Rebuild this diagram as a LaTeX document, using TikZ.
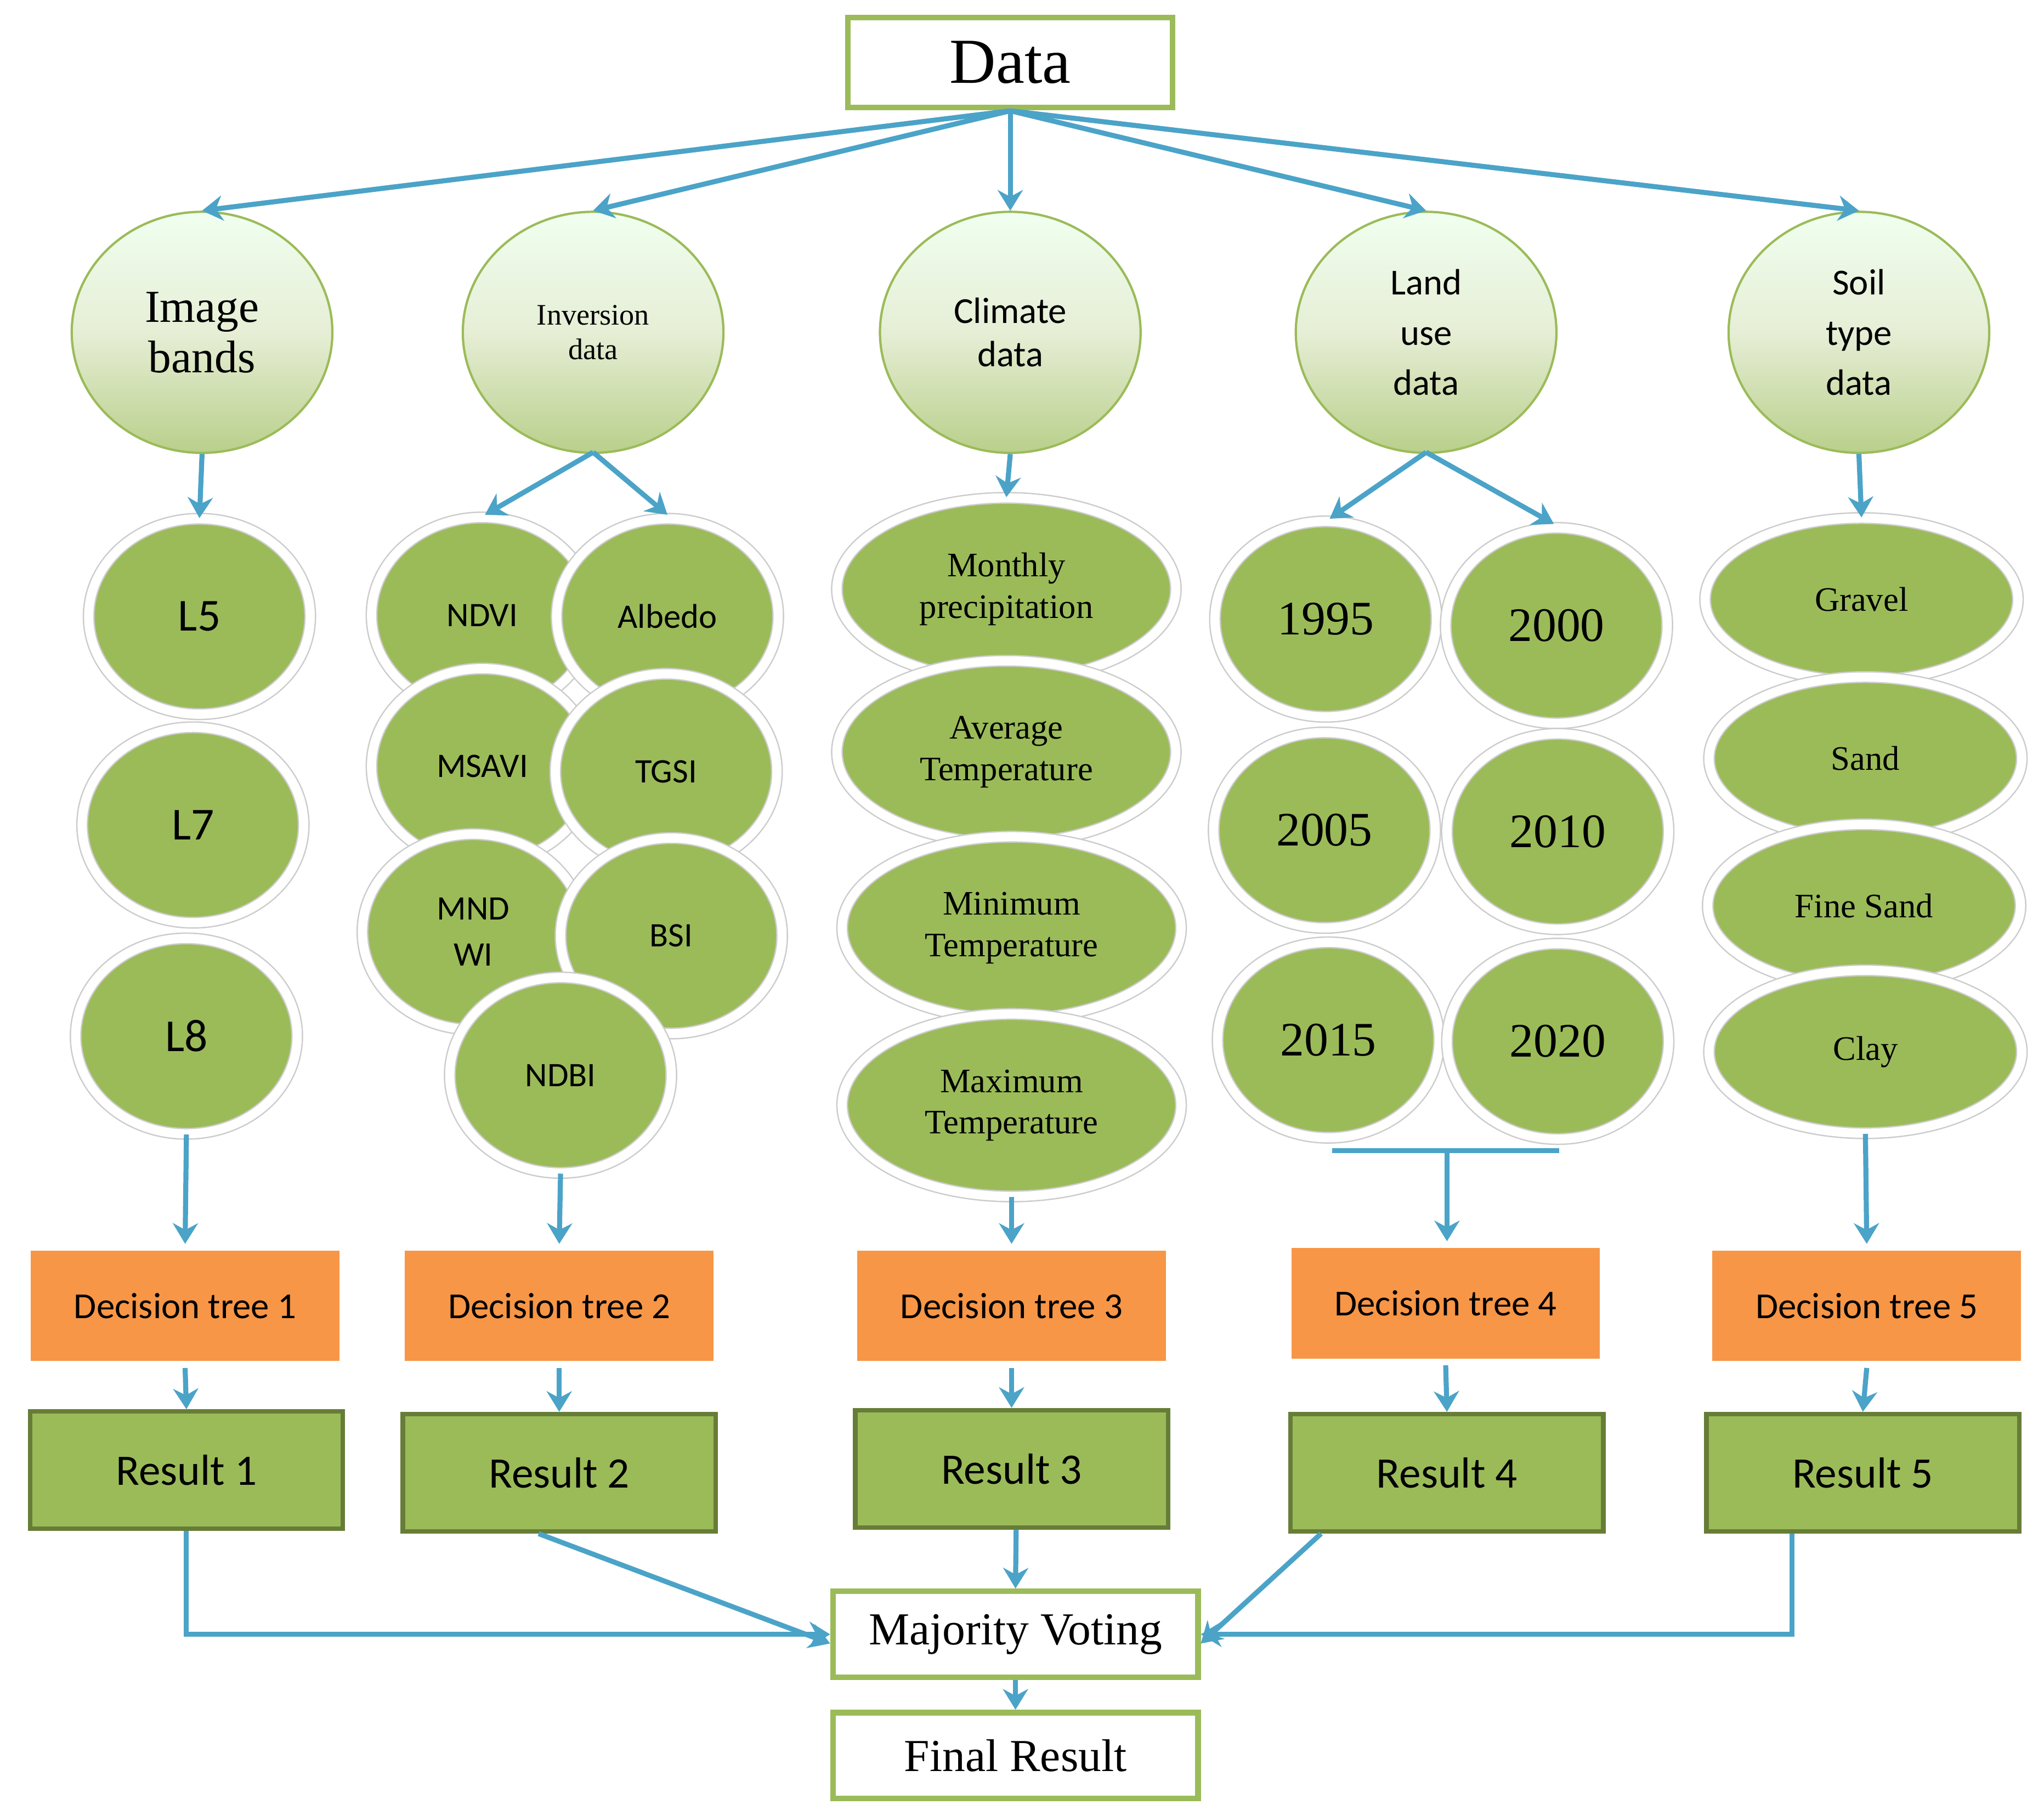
\documentclass[tikz,border=0pt]{standalone}
\usepackage{fontspec}
\setmainfont{Liberation Serif}
\newfontfamily\calf{Carlito}
\usetikzlibrary{shapes.geometric,arrows.meta}
\definecolor{gr}{HTML}{9BBB59}
\definecolor{dgr}{HTML}{4F6228}
\definecolor{org}{HTML}{F79646}
\definecolor{bl}{HTML}{4BA3C8}
\begin{document}
\begin{tikzpicture}[x=0.02cm,y=-0.02cm,
 top/.style={ellipse,minimum width=4cm,minimum height=3.7cm,draw=gr,line width=1pt,top color=white!40!green!10,bottom color=gr!70!white,middle color=gr!25!white,align=center},
 el/.style={ellipse,fill=gr,draw=gray!40,double=white,double distance=4pt,line width=0.6pt,align=center},
 circ/.style={el,minimum width=3.4cm,minimum height=3cm},
 wide/.style={el,minimum width=5.2cm,minimum height=2.8cm},
 soil/.style={el,minimum width=4.8cm,minimum height=2.5cm},
 dt/.style={rectangle,fill=org,draw=white,line width=3pt,minimum width=4.84cm,minimum height=1.8cm,font=\calf\fontsize{16}{18}\selectfont},
 res/.style={rectangle,fill=gr,draw=dgr!70!gr,line width=2pt,minimum width=4.8cm,minimum height=1.8cm,font=\calf\fontsize{19}{21}\selectfont},
 wb/.style={rectangle,fill=white,draw=gr,line width=2.5pt,minimum width=5.6cm,minimum height=1.32cm},
 ar/.style={draw=bl,line width=2.2pt,-{Stealth[length=9pt,width=11pt]}},
 ln/.style={draw=bl,line width=2.2pt}]
\useasboundingbox (0,0) rectangle (1568,1393);
\node[wb,minimum width=4.98cm,minimum height=1.38cm,font=\fontsize{28}{30}\selectfont] (data) at (775,48) {Data};
\node[top,font=\fontsize{20}{22}\selectfont] (c1) at (155,255) {Image\\bands};
\node[top,font=\fontsize{13}{15}\selectfont] (c2) at (455,255) {Inversion\\data};
\node[top,font=\calf\fontsize{16}{19}\selectfont] (c3) at (775,255) {Climate\\data};
\node[top,font=\calf\fontsize{16}{22}\selectfont] (c4) at (1094,255) {Land\\use\\data};
\node[top,font=\calf\fontsize{16}{22}\selectfont] (c5) at (1426,255) {Soil\\type\\data};
\coordinate (d0) at (775,85);
\foreach \c in {c1,c2,c3,c4,c5} \draw[ar] (d0) -- (\c.north);
% column 1
\begin{scope}[font=\calf\fontsize{20}{22}\selectfont]
\node[circ] (l5) at (153,473) {L5};
\node[circ] (l7) at (148,633) {L7};
\node[circ] (l8) at (143,795) {L8};
\end{scope}
\draw[ar] (c1.south) -- (l5.north);
% column 2
\begin{scope}[font=\calf\fontsize{15}{20}\selectfont]
\node[circ] (ndvi) at (370,472) {NDVI};
\node[circ] (alb) at (512,473) {Albedo};
\node[circ] (msavi) at (370,588) {MSAVI};
\node[circ] (tgsi) at (511,592) {TGSI};
\node[circ] (mndwi) at (363,715) {MND\\WI};
\node[circ] (bsi) at (515,718) {BSI};
\node[circ] (ndbi) at (430,825) {NDBI};
\end{scope}
\coordinate (c2b) at (455,347);
\draw[ar] (c2b) -- (372,395);
\draw[ar] (c2b) -- (512,395);
% column 3
\begin{scope}[font=\fontsize{15}{18}\selectfont]
\node[wide] (mp) at (772,452) {Monthly\\precipitation};
\node[wide] (at) at (772,577) {Average\\Temperature};
\node[wide] (mint) at (776,712) {Minimum\\Temperature};
\node[wide] (maxt) at (776,848) {Maximum\\Temperature};
\end{scope}
\draw[ar] (c3.south) -- (mp.north);
% column 4
\begin{scope}[font=\fontsize{21}{23}\selectfont]
\node[circ] (y95) at (1017,475) {1995};
\node[circ] (y00) at (1194,480) {2000};
\node[circ] (y05) at (1016,637) {2005};
\node[circ] (y10) at (1195,638) {2010};
\node[circ] (y15) at (1019,798) {2015};
\node[circ] (y20) at (1195,799) {2020};
\end{scope}
\coordinate (c4b) at (1094,347);
\draw[ar] (c4b) -- (1020,398);
\draw[ar] (c4b) -- (1192,402);
% column 5
\begin{scope}[font=\fontsize{15}{18}\selectfont]
\node[soil] (grav) at (1428,460) {Gravel};
\node[soil] (sand) at (1431,582) {Sand};
\node[soil] (fs) at (1430,695) {Fine Sand};
\node[soil] (clay) at (1431,807) {Clay};
\end{scope}
\draw[ar] (c5.south) -- (grav.north);
% decision trees
\node[dt] (dt1) at (142,1002) {Decision tree 1};
\node[dt] (dt2) at (429,1002) {Decision tree 2};
\node[dt] (dt3) at (776,1002) {Decision tree 3};
\node[dt] (dt4) at (1109,1000) {Decision tree 4};
\node[dt] (dt5) at (1432,1002) {Decision tree 5};
\draw[ar] (l8.south) -- (dt1.north);
\draw[ar] (ndbi.south) -- (dt2.north);
\draw[ar] (maxt.south) -- (dt3.north);
\coordinate (b1) at (1022,883); \coordinate (b2) at (1196,883); \coordinate (bm) at (1110,883);
\draw[ln] (b1) -- (b2);
\draw[ar] (bm) -- (dt4.north -| bm);
\draw[ar] (clay.south) -- (dt5.north);
% results
\node[res] (r1) at (143,1128) {Result 1};
\node[res] (r2) at (429,1130) {Result 2};
\node[res] (r3) at (776,1127) {Result 3};
\node[res] (r4) at (1110,1130) {Result 4};
\node[res] (r5) at (1429,1130) {Result 5};
\foreach \i in {1,...,5} \draw[ar] (dt\i.south) -- (r\i.north);
% voting
\node[wb,font=\fontsize{20}{22}\selectfont] (mv) at (779,1254) {Majority Voting};
\node[wb,font=\fontsize{20}{22}\selectfont] (fr) at (779,1347) {Final Result};
\draw[ar] (r1.south) |- (mv.west);
\draw[ar] ([xshift=-9pt]r2.south) -- ([yshift=-4pt]mv.west);
\draw[ar] ([xshift=2pt]r3.south) -- (mv.north);
\draw[ar] ([xshift=-55]r4.south) -- ([yshift=-4pt]mv.east);
\draw[ar] ([xshift=-31]r5.south) |- (mv.east);
\draw[ar] (mv.south) -- (fr.north);
\end{tikzpicture}
\end{document}
